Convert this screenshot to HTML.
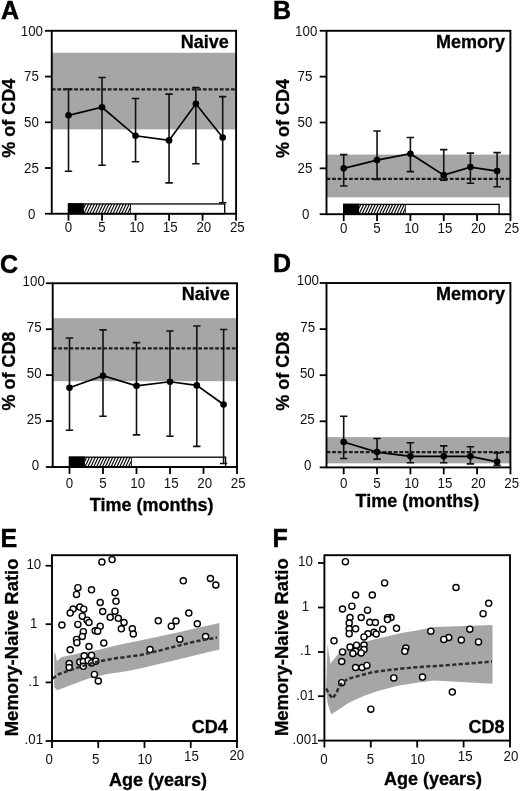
<!DOCTYPE html>
<html><head><meta charset="utf-8"><title>Figure</title>
<style>
html,body{margin:0;padding:0;background:#fff;overflow:hidden;}
svg{display:block;font-family:"Liberation Sans", sans-serif;will-change:transform;filter:grayscale(1);}
</style></head><body>
<svg width="520" height="791" viewBox="0 0 520 791">
<rect width="520" height="791" fill="#fff"/>
<g>
<rect x="51.75" y="52.75" width="184.35" height="76.66" fill="#a6a6a6"/>
<line x1="51.75" y1="89.34" x2="236.10" y2="89.34" stroke="#1c1c1c" stroke-width="2.2" stroke-dasharray="3.8 1.8"/>
<rect x="68.50" y="203.95" width="156.20" height="9.8" fill="#fff" stroke="#000" stroke-width="1.3"/>
<clipPath id="clipA"><rect x="83.92" y="203.95" width="46.59" height="9.8"/></clipPath>
<path d="M77.92 214.25L83.02 203.45M80.82 214.25L85.92 203.45M83.72 214.25L88.82 203.45M86.62 214.25L91.72 203.45M89.52 214.25L94.62 203.45M92.42 214.25L97.52 203.45M95.32 214.25L100.42 203.45M98.22 214.25L103.32 203.45M101.12 214.25L106.22 203.45M104.02 214.25L109.12 203.45M106.92 214.25L112.02 203.45M109.82 214.25L114.92 203.45M112.72 214.25L117.82 203.45M115.62 214.25L120.72 203.45M118.52 214.25L123.62 203.45M121.42 214.25L126.52 203.45M124.32 214.25L129.42 203.45M127.22 214.25L132.32 203.45M130.12 214.25L135.22 203.45" stroke="#000" stroke-width="1.15" fill="none" clip-path="url(#clipA)"/>
<line x1="130.51" y1="203.95" x2="130.51" y2="213.75" stroke="#000" stroke-width="0.8"/>
<rect x="67.85" y="203.30" width="16.07" height="10.450000000000001" fill="#000"/>
<path d="M68.50 88.98V171.31M64.80 88.98h7.4M64.80 171.31h7.4" stroke="#111" stroke-width="1.6" fill="none"/>
<path d="M102.02 77.45V165.27M98.32 77.45h7.4M98.32 165.27h7.4" stroke="#111" stroke-width="1.6" fill="none"/>
<path d="M135.54 98.49V161.79M131.84 98.49h7.4M131.84 161.79h7.4" stroke="#111" stroke-width="1.6" fill="none"/>
<path d="M169.06 94.10V182.83M165.36 94.10h7.4M165.36 182.83h7.4" stroke="#111" stroke-width="1.6" fill="none"/>
<path d="M195.88 87.51V163.80M192.18 87.51h7.4M192.18 163.80h7.4" stroke="#111" stroke-width="1.6" fill="none"/>
<path d="M222.69 96.66V202.77M218.99 96.66h7.4M218.99 202.77h7.4" stroke="#111" stroke-width="1.6" fill="none"/>
<path d="M68.50 115.32L102.02 107.27L135.54 135.81L169.06 140.39L195.88 103.80L222.69 137.46" stroke="#000" stroke-width="1.7" fill="none"/>
<circle cx="68.50" cy="115.32" r="3.3" fill="#000"/>
<circle cx="102.02" cy="107.27" r="3.3" fill="#000"/>
<circle cx="135.54" cy="135.81" r="3.3" fill="#000"/>
<circle cx="169.06" cy="140.39" r="3.3" fill="#000"/>
<circle cx="195.88" cy="103.80" r="3.3" fill="#000"/>
<circle cx="222.69" cy="137.46" r="3.3" fill="#000"/>
<rect x="51.75" y="30.80" width="184.35" height="182.95" fill="none" stroke="#000" stroke-width="1.9"/>
<line x1="44.95" y1="213.75" x2="51.75" y2="213.75" stroke="#000" stroke-width="1.8"/>
<text transform="translate(31.80 218.55) scale(0.925 1)" font-size="14.4" text-anchor="middle" fill="#111">0</text>
<line x1="44.95" y1="168.01" x2="51.75" y2="168.01" stroke="#000" stroke-width="1.8"/>
<text transform="translate(31.40 172.81) scale(0.925 1)" font-size="14.4" text-anchor="middle" fill="#111">25</text>
<line x1="44.95" y1="122.28" x2="51.75" y2="122.28" stroke="#000" stroke-width="1.8"/>
<text transform="translate(31.40 127.08) scale(0.925 1)" font-size="14.4" text-anchor="middle" fill="#111">50</text>
<line x1="44.95" y1="76.54" x2="51.75" y2="76.54" stroke="#000" stroke-width="1.8"/>
<text transform="translate(31.40 81.34) scale(0.925 1)" font-size="14.4" text-anchor="middle" fill="#111">75</text>
<line x1="44.95" y1="30.80" x2="51.75" y2="30.80" stroke="#000" stroke-width="1.8"/>
<text transform="translate(31.90 35.60) scale(0.925 1)" font-size="14.4" text-anchor="middle" fill="#111">100</text>
<line x1="68.50" y1="213.75" x2="68.50" y2="220.65" stroke="#000" stroke-width="1.8"/>
<text transform="translate(68.50 232.45) scale(0.925 1)" font-size="14.4" text-anchor="middle" fill="#111">0</text>
<line x1="102.02" y1="213.75" x2="102.02" y2="220.65" stroke="#000" stroke-width="1.8"/>
<text transform="translate(102.02 232.45) scale(0.925 1)" font-size="14.4" text-anchor="middle" fill="#111">5</text>
<line x1="135.54" y1="213.75" x2="135.54" y2="220.65" stroke="#000" stroke-width="1.8"/>
<text transform="translate(136.74 232.45) scale(0.925 1)" font-size="14.4" text-anchor="middle" fill="#111">10</text>
<line x1="169.06" y1="213.75" x2="169.06" y2="220.65" stroke="#000" stroke-width="1.8"/>
<text transform="translate(170.26 232.45) scale(0.925 1)" font-size="14.4" text-anchor="middle" fill="#111">15</text>
<line x1="202.58" y1="213.75" x2="202.58" y2="220.65" stroke="#000" stroke-width="1.8"/>
<text transform="translate(203.78 232.45) scale(0.925 1)" font-size="14.4" text-anchor="middle" fill="#111">20</text>
<line x1="236.10" y1="213.75" x2="236.10" y2="220.65" stroke="#000" stroke-width="1.8"/>
<text transform="translate(237.30 232.45) scale(0.925 1)" font-size="14.4" text-anchor="middle" fill="#111">25</text>
<text x="228.90" y="47.70" font-size="18" font-weight="bold" stroke="#000" stroke-width="0.3" text-anchor="end">Naive</text>
<text transform="translate(15.00 118.28) rotate(-90)" font-size="18" font-weight="bold" stroke="#000" stroke-width="0.3" text-anchor="middle">% of CD4</text>
<text x="1.00" y="19.10" font-size="25" font-weight="bold" stroke="#000" stroke-width="0.45">A</text>
<rect x="326.50" y="154.59" width="183.90" height="42.73" fill="#a6a6a6"/>
<line x1="326.50" y1="178.80" x2="510.40" y2="178.80" stroke="#1c1c1c" stroke-width="2.2" stroke-dasharray="3.8 1.8"/>
<rect x="343.70" y="204.40" width="155.41" height="9.8" fill="#fff" stroke="#000" stroke-width="1.3"/>
<clipPath id="clipB"><rect x="359.04" y="204.40" width="46.36" height="9.8"/></clipPath>
<path d="M353.04 214.70L358.14 203.90M355.94 214.70L361.04 203.90M358.84 214.70L363.94 203.90M361.74 214.70L366.84 203.90M364.64 214.70L369.74 203.90M367.54 214.70L372.64 203.90M370.44 214.70L375.54 203.90M373.34 214.70L378.44 203.90M376.24 214.70L381.34 203.90M379.14 214.70L384.24 203.90M382.04 214.70L387.14 203.90M384.94 214.70L390.04 203.90M387.84 214.70L392.94 203.90M390.74 214.70L395.84 203.90M393.64 214.70L398.74 203.90M396.54 214.70L401.64 203.90M399.44 214.70L404.54 203.90M402.34 214.70L407.44 203.90M405.24 214.70L410.34 203.90" stroke="#000" stroke-width="1.15" fill="none" clip-path="url(#clipB)"/>
<line x1="405.40" y1="204.40" x2="405.40" y2="214.20" stroke="#000" stroke-width="0.8"/>
<rect x="343.05" y="203.75" width="15.99" height="10.450000000000001" fill="#000"/>
<path d="M343.70 154.59V185.96M340.00 154.59h7.4M340.00 185.96h7.4" stroke="#111" stroke-width="1.6" fill="none"/>
<path d="M377.05 130.94V179.35M373.35 130.94h7.4M373.35 179.35h7.4" stroke="#111" stroke-width="1.6" fill="none"/>
<path d="M410.40 137.54V171.65M406.70 137.54h7.4M406.70 171.65h7.4" stroke="#111" stroke-width="1.6" fill="none"/>
<path d="M443.75 149.64V180.09M440.05 149.64h7.4M440.05 180.09h7.4" stroke="#111" stroke-width="1.6" fill="none"/>
<path d="M470.43 153.13V183.21M466.73 153.13h7.4M466.73 183.21h7.4" stroke="#111" stroke-width="1.6" fill="none"/>
<path d="M497.11 152.58V186.69M493.41 152.58h7.4M493.41 186.69h7.4" stroke="#111" stroke-width="1.6" fill="none"/>
<path d="M343.70 168.35L377.05 160.10L410.40 153.68L443.75 175.14L470.43 167.07L497.11 171.10" stroke="#000" stroke-width="1.7" fill="none"/>
<circle cx="343.70" cy="168.35" r="3.3" fill="#000"/>
<circle cx="377.05" cy="160.10" r="3.3" fill="#000"/>
<circle cx="410.40" cy="153.68" r="3.3" fill="#000"/>
<circle cx="443.75" cy="175.14" r="3.3" fill="#000"/>
<circle cx="470.43" cy="167.07" r="3.3" fill="#000"/>
<circle cx="497.11" cy="171.10" r="3.3" fill="#000"/>
<rect x="326.50" y="30.80" width="183.90" height="183.40" fill="none" stroke="#000" stroke-width="1.9"/>
<line x1="319.70" y1="214.20" x2="326.50" y2="214.20" stroke="#000" stroke-width="1.8"/>
<text transform="translate(305.60 219.00) scale(0.925 1)" font-size="14.4" text-anchor="middle" fill="#111">0</text>
<line x1="319.70" y1="168.35" x2="326.50" y2="168.35" stroke="#000" stroke-width="1.8"/>
<text transform="translate(304.90 173.15) scale(0.925 1)" font-size="14.4" text-anchor="middle" fill="#111">25</text>
<line x1="319.70" y1="122.50" x2="326.50" y2="122.50" stroke="#000" stroke-width="1.8"/>
<text transform="translate(304.90 127.30) scale(0.925 1)" font-size="14.4" text-anchor="middle" fill="#111">50</text>
<line x1="319.70" y1="76.65" x2="326.50" y2="76.65" stroke="#000" stroke-width="1.8"/>
<text transform="translate(304.90 81.45) scale(0.925 1)" font-size="14.4" text-anchor="middle" fill="#111">75</text>
<line x1="319.70" y1="30.80" x2="326.50" y2="30.80" stroke="#000" stroke-width="1.8"/>
<text transform="translate(306.20 35.60) scale(0.925 1)" font-size="14.4" text-anchor="middle" fill="#111">100</text>
<line x1="343.70" y1="214.20" x2="343.70" y2="221.10" stroke="#000" stroke-width="1.8"/>
<text transform="translate(343.70 232.90) scale(0.925 1)" font-size="14.4" text-anchor="middle" fill="#111">0</text>
<line x1="377.05" y1="214.20" x2="377.05" y2="221.10" stroke="#000" stroke-width="1.8"/>
<text transform="translate(377.05 232.90) scale(0.925 1)" font-size="14.4" text-anchor="middle" fill="#111">5</text>
<line x1="410.40" y1="214.20" x2="410.40" y2="221.10" stroke="#000" stroke-width="1.8"/>
<text transform="translate(411.60 232.90) scale(0.925 1)" font-size="14.4" text-anchor="middle" fill="#111">10</text>
<line x1="443.75" y1="214.20" x2="443.75" y2="221.10" stroke="#000" stroke-width="1.8"/>
<text transform="translate(444.95 232.90) scale(0.925 1)" font-size="14.4" text-anchor="middle" fill="#111">15</text>
<line x1="477.10" y1="214.20" x2="477.10" y2="221.10" stroke="#000" stroke-width="1.8"/>
<text transform="translate(478.30 232.90) scale(0.925 1)" font-size="14.4" text-anchor="middle" fill="#111">20</text>
<line x1="510.45" y1="214.20" x2="510.45" y2="221.10" stroke="#000" stroke-width="1.8"/>
<text transform="translate(511.65 232.90) scale(0.925 1)" font-size="14.4" text-anchor="middle" fill="#111">25</text>
<text x="505.00" y="47.70" font-size="18" font-weight="bold" stroke="#000" stroke-width="0.3" text-anchor="end">Memory</text>
<text transform="translate(289.00 118.50) rotate(-90)" font-size="18" font-weight="bold" stroke="#000" stroke-width="0.3" text-anchor="middle">% of CD4</text>
<text x="273.00" y="19.10" font-size="25" font-weight="bold" stroke="#000" stroke-width="0.45">B</text>
<rect x="52.70" y="318.16" width="184.30" height="63.03" fill="#a6a6a6"/>
<line x1="52.70" y1="348.30" x2="237.00" y2="348.30" stroke="#1c1c1c" stroke-width="2.2" stroke-dasharray="3.8 1.8"/>
<rect x="69.50" y="457.20" width="156.11" height="9.8" fill="#fff" stroke="#000" stroke-width="1.3"/>
<clipPath id="clipC"><rect x="84.91" y="457.20" width="46.56" height="9.8"/></clipPath>
<path d="M78.91 467.50L84.01 456.70M81.81 467.50L86.91 456.70M84.71 467.50L89.81 456.70M87.61 467.50L92.71 456.70M90.51 467.50L95.61 456.70M93.41 467.50L98.51 456.70M96.31 467.50L101.41 456.70M99.21 467.50L104.31 456.70M102.11 467.50L107.21 456.70M105.01 467.50L110.11 456.70M107.91 467.50L113.01 456.70M110.81 467.50L115.91 456.70M113.71 467.50L118.81 456.70M116.61 467.50L121.71 456.70M119.51 467.50L124.61 456.70M122.41 467.50L127.51 456.70M125.31 467.50L130.41 456.70M128.21 467.50L133.31 456.70M131.11 467.50L136.21 456.70" stroke="#000" stroke-width="1.15" fill="none" clip-path="url(#clipC)"/>
<line x1="131.47" y1="457.20" x2="131.47" y2="467.00" stroke="#000" stroke-width="0.8"/>
<rect x="68.85" y="456.55" width="16.06" height="10.450000000000001" fill="#000"/>
<path d="M69.50 338.01V430.25M65.80 338.01h7.4M65.80 430.25h7.4" stroke="#111" stroke-width="1.6" fill="none"/>
<path d="M103.00 329.92V416.28M99.30 329.92h7.4M99.30 416.28h7.4" stroke="#111" stroke-width="1.6" fill="none"/>
<path d="M136.50 342.60V434.84M132.80 342.60h7.4M132.80 434.84h7.4" stroke="#111" stroke-width="1.6" fill="none"/>
<path d="M170.00 331.02V436.31M166.30 331.02h7.4M166.30 436.31h7.4" stroke="#111" stroke-width="1.6" fill="none"/>
<path d="M196.80 326.06V446.42M193.10 326.06h7.4M193.10 446.42h7.4" stroke="#111" stroke-width="1.6" fill="none"/>
<path d="M223.60 329.56V463.51M219.90 329.56h7.4M219.90 463.51h7.4" stroke="#111" stroke-width="1.6" fill="none"/>
<path d="M69.50 387.80L103.00 375.68L136.50 385.78L170.00 381.74L196.80 385.42L223.60 404.52" stroke="#000" stroke-width="1.7" fill="none"/>
<circle cx="69.50" cy="387.80" r="3.3" fill="#000"/>
<circle cx="103.00" cy="375.68" r="3.3" fill="#000"/>
<circle cx="136.50" cy="385.78" r="3.3" fill="#000"/>
<circle cx="170.00" cy="381.74" r="3.3" fill="#000"/>
<circle cx="196.80" cy="385.42" r="3.3" fill="#000"/>
<circle cx="223.60" cy="404.52" r="3.3" fill="#000"/>
<rect x="52.70" y="283.25" width="184.30" height="183.75" fill="none" stroke="#000" stroke-width="1.9"/>
<line x1="45.90" y1="467.00" x2="52.70" y2="467.00" stroke="#000" stroke-width="1.8"/>
<text transform="translate(35.40 469.50) scale(0.925 1)" font-size="14.4" text-anchor="middle" fill="#111">0</text>
<line x1="45.90" y1="421.06" x2="52.70" y2="421.06" stroke="#000" stroke-width="1.8"/>
<text transform="translate(34.20 423.56) scale(0.925 1)" font-size="14.4" text-anchor="middle" fill="#111">25</text>
<line x1="45.90" y1="375.12" x2="52.70" y2="375.12" stroke="#000" stroke-width="1.8"/>
<text transform="translate(34.20 377.62) scale(0.925 1)" font-size="14.4" text-anchor="middle" fill="#111">50</text>
<line x1="45.90" y1="329.19" x2="52.70" y2="329.19" stroke="#000" stroke-width="1.8"/>
<text transform="translate(34.20 331.69) scale(0.925 1)" font-size="14.4" text-anchor="middle" fill="#111">75</text>
<line x1="45.90" y1="283.25" x2="52.70" y2="283.25" stroke="#000" stroke-width="1.8"/>
<text transform="translate(33.70 285.75) scale(0.925 1)" font-size="14.4" text-anchor="middle" fill="#111">100</text>
<line x1="69.50" y1="467.00" x2="69.50" y2="473.90" stroke="#000" stroke-width="1.8"/>
<text transform="translate(69.50 487.80) scale(0.925 1)" font-size="14.4" text-anchor="middle" fill="#111">0</text>
<line x1="103.00" y1="467.00" x2="103.00" y2="473.90" stroke="#000" stroke-width="1.8"/>
<text transform="translate(103.00 487.80) scale(0.925 1)" font-size="14.4" text-anchor="middle" fill="#111">5</text>
<line x1="136.50" y1="467.00" x2="136.50" y2="473.90" stroke="#000" stroke-width="1.8"/>
<text transform="translate(137.70 487.80) scale(0.925 1)" font-size="14.4" text-anchor="middle" fill="#111">10</text>
<line x1="170.00" y1="467.00" x2="170.00" y2="473.90" stroke="#000" stroke-width="1.8"/>
<text transform="translate(171.20 487.80) scale(0.925 1)" font-size="14.4" text-anchor="middle" fill="#111">15</text>
<line x1="203.50" y1="467.00" x2="203.50" y2="473.90" stroke="#000" stroke-width="1.8"/>
<text transform="translate(204.70 487.80) scale(0.925 1)" font-size="14.4" text-anchor="middle" fill="#111">20</text>
<line x1="237.00" y1="467.00" x2="237.00" y2="473.90" stroke="#000" stroke-width="1.8"/>
<text transform="translate(238.20 487.80) scale(0.925 1)" font-size="14.4" text-anchor="middle" fill="#111">25</text>
<text x="229.80" y="300.15" font-size="18" font-weight="bold" stroke="#000" stroke-width="0.3" text-anchor="end">Naive</text>
<text transform="translate(15.00 371.12) rotate(-90)" font-size="18" font-weight="bold" stroke="#000" stroke-width="0.3" text-anchor="middle">% of CD8</text>
<text x="-0.10" y="272.60" font-size="25" font-weight="bold" stroke="#000" stroke-width="0.45">C</text>
<text x="151.70" y="510.60" font-size="18" font-weight="bold" stroke="#000" stroke-width="0.3" text-anchor="middle">Time (months)</text>
<rect x="326.50" y="437.16" width="183.90" height="26.18" fill="#a6a6a6"/>
<line x1="326.50" y1="452.09" x2="510.40" y2="452.09" stroke="#1c1c1c" stroke-width="2.2" stroke-dasharray="3.8 1.8"/>
<path d="M343.70 416.32V458.55M340.00 416.32h7.4M340.00 458.55h7.4" stroke="#111" stroke-width="1.6" fill="none"/>
<path d="M377.05 438.45V459.10M373.35 438.45h7.4M373.35 459.10h7.4" stroke="#111" stroke-width="1.6" fill="none"/>
<path d="M410.40 442.69V462.79M406.70 442.69h7.4M406.70 462.79h7.4" stroke="#111" stroke-width="1.6" fill="none"/>
<path d="M443.75 445.83V462.79M440.05 445.83h7.4M440.05 462.79h7.4" stroke="#111" stroke-width="1.6" fill="none"/>
<path d="M470.43 446.75V463.90M466.73 446.75h7.4M466.73 463.90h7.4" stroke="#111" stroke-width="1.6" fill="none"/>
<path d="M497.11 452.83V465.37M493.41 452.83h7.4M493.41 465.37h7.4" stroke="#111" stroke-width="1.6" fill="none"/>
<path d="M343.70 441.95L377.05 452.09L410.40 456.34L443.75 456.34L470.43 456.34L497.11 461.87" stroke="#000" stroke-width="1.7" fill="none"/>
<circle cx="343.70" cy="441.95" r="3.3" fill="#000"/>
<circle cx="377.05" cy="452.09" r="3.3" fill="#000"/>
<circle cx="410.40" cy="456.34" r="3.3" fill="#000"/>
<circle cx="443.75" cy="456.34" r="3.3" fill="#000"/>
<circle cx="470.43" cy="456.34" r="3.3" fill="#000"/>
<circle cx="497.11" cy="461.87" r="3.3" fill="#000"/>
<rect x="326.50" y="283.00" width="183.90" height="184.40" fill="none" stroke="#000" stroke-width="1.9"/>
<line x1="319.70" y1="467.40" x2="326.50" y2="467.40" stroke="#000" stroke-width="1.8"/>
<text transform="translate(307.80 469.80) scale(0.925 1)" font-size="14.4" text-anchor="middle" fill="#111">0</text>
<line x1="319.70" y1="421.30" x2="326.50" y2="421.30" stroke="#000" stroke-width="1.8"/>
<text transform="translate(307.30 423.70) scale(0.925 1)" font-size="14.4" text-anchor="middle" fill="#111">25</text>
<line x1="319.70" y1="375.20" x2="326.50" y2="375.20" stroke="#000" stroke-width="1.8"/>
<text transform="translate(307.30 377.60) scale(0.925 1)" font-size="14.4" text-anchor="middle" fill="#111">50</text>
<line x1="319.70" y1="329.10" x2="326.50" y2="329.10" stroke="#000" stroke-width="1.8"/>
<text transform="translate(307.70 331.50) scale(0.925 1)" font-size="14.4" text-anchor="middle" fill="#111">75</text>
<line x1="319.70" y1="283.00" x2="326.50" y2="283.00" stroke="#000" stroke-width="1.8"/>
<text transform="translate(307.90 285.40) scale(0.925 1)" font-size="14.4" text-anchor="middle" fill="#111">100</text>
<line x1="343.70" y1="467.40" x2="343.70" y2="474.30" stroke="#000" stroke-width="1.8"/>
<text transform="translate(343.70 488.40) scale(0.925 1)" font-size="14.4" text-anchor="middle" fill="#111">0</text>
<line x1="377.05" y1="467.40" x2="377.05" y2="474.30" stroke="#000" stroke-width="1.8"/>
<text transform="translate(377.05 488.40) scale(0.925 1)" font-size="14.4" text-anchor="middle" fill="#111">5</text>
<line x1="410.40" y1="467.40" x2="410.40" y2="474.30" stroke="#000" stroke-width="1.8"/>
<text transform="translate(411.60 488.40) scale(0.925 1)" font-size="14.4" text-anchor="middle" fill="#111">10</text>
<line x1="443.75" y1="467.40" x2="443.75" y2="474.30" stroke="#000" stroke-width="1.8"/>
<text transform="translate(444.95 488.40) scale(0.925 1)" font-size="14.4" text-anchor="middle" fill="#111">15</text>
<line x1="477.10" y1="467.40" x2="477.10" y2="474.30" stroke="#000" stroke-width="1.8"/>
<text transform="translate(478.30 488.40) scale(0.925 1)" font-size="14.4" text-anchor="middle" fill="#111">20</text>
<line x1="510.45" y1="467.40" x2="510.45" y2="474.30" stroke="#000" stroke-width="1.8"/>
<text transform="translate(511.65 488.40) scale(0.925 1)" font-size="14.4" text-anchor="middle" fill="#111">25</text>
<text x="505.00" y="299.90" font-size="18" font-weight="bold" stroke="#000" stroke-width="0.3" text-anchor="end">Memory</text>
<text transform="translate(289.00 371.20) rotate(-90)" font-size="18" font-weight="bold" stroke="#000" stroke-width="0.3" text-anchor="middle">% of CD8</text>
<text x="273.00" y="271.60" font-size="25" font-weight="bold" stroke="#000" stroke-width="0.45">D</text>
<text x="417.40" y="507.00" font-size="18" font-weight="bold" stroke="#000" stroke-width="0.3" text-anchor="middle">Time (months)</text>
<polygon points="54.2,675.0 54.2,652.7 55.4,653.5 56.9,661.3 61.2,657.2 78.0,653.5 97.7,650.0 117.0,645.2 140.0,640.4 178.5,632.3 219.4,623.1 219.4,649.6 180.0,659.0 140.0,668.5 126.5,671.2 107.3,674.0 88.0,678.8 69.0,685.8 57.3,690.2 54.2,687.3 54.2,675.0" fill="#a6a6a6"/>
<circle cx="101.9" cy="562.1" r="3.05" fill="#fff" stroke="#000" stroke-width="1.4"/>
<circle cx="112.1" cy="559.6" r="3.05" fill="#fff" stroke="#000" stroke-width="1.4"/>
<circle cx="77.9" cy="587.7" r="3.05" fill="#fff" stroke="#000" stroke-width="1.4"/>
<circle cx="76.5" cy="594.4" r="3.05" fill="#fff" stroke="#000" stroke-width="1.4"/>
<circle cx="91.5" cy="589.8" r="3.05" fill="#fff" stroke="#000" stroke-width="1.4"/>
<circle cx="115.0" cy="592.7" r="3.05" fill="#fff" stroke="#000" stroke-width="1.4"/>
<circle cx="116.0" cy="601.3" r="3.05" fill="#fff" stroke="#000" stroke-width="1.4"/>
<circle cx="100.2" cy="602.5" r="3.05" fill="#fff" stroke="#000" stroke-width="1.4"/>
<circle cx="79.8" cy="607.1" r="3.05" fill="#fff" stroke="#000" stroke-width="1.4"/>
<circle cx="83.7" cy="609.2" r="3.05" fill="#fff" stroke="#000" stroke-width="1.4"/>
<circle cx="73.1" cy="609.0" r="3.05" fill="#fff" stroke="#000" stroke-width="1.4"/>
<circle cx="70.2" cy="613.1" r="3.05" fill="#fff" stroke="#000" stroke-width="1.4"/>
<circle cx="102.7" cy="611.5" r="3.05" fill="#fff" stroke="#000" stroke-width="1.4"/>
<circle cx="115.0" cy="611.2" r="3.05" fill="#fff" stroke="#000" stroke-width="1.4"/>
<circle cx="82.3" cy="616.2" r="3.05" fill="#fff" stroke="#000" stroke-width="1.4"/>
<circle cx="110.2" cy="617.3" r="3.05" fill="#fff" stroke="#000" stroke-width="1.4"/>
<circle cx="118.3" cy="618.3" r="3.05" fill="#fff" stroke="#000" stroke-width="1.4"/>
<circle cx="87.1" cy="620.2" r="3.05" fill="#fff" stroke="#000" stroke-width="1.4"/>
<circle cx="89.0" cy="622.5" r="3.05" fill="#fff" stroke="#000" stroke-width="1.4"/>
<circle cx="124.0" cy="622.5" r="3.05" fill="#fff" stroke="#000" stroke-width="1.4"/>
<circle cx="61.9" cy="625.0" r="3.05" fill="#fff" stroke="#000" stroke-width="1.4"/>
<circle cx="77.9" cy="624.4" r="3.05" fill="#fff" stroke="#000" stroke-width="1.4"/>
<circle cx="100.2" cy="626.3" r="3.05" fill="#fff" stroke="#000" stroke-width="1.4"/>
<circle cx="121.3" cy="628.8" r="3.05" fill="#fff" stroke="#000" stroke-width="1.4"/>
<circle cx="132.3" cy="628.8" r="3.05" fill="#fff" stroke="#000" stroke-width="1.4"/>
<circle cx="133.3" cy="634.0" r="3.05" fill="#fff" stroke="#000" stroke-width="1.4"/>
<circle cx="95.2" cy="630.8" r="3.05" fill="#fff" stroke="#000" stroke-width="1.4"/>
<circle cx="97.7" cy="631.2" r="3.05" fill="#fff" stroke="#000" stroke-width="1.4"/>
<circle cx="83.3" cy="631.7" r="3.05" fill="#fff" stroke="#000" stroke-width="1.4"/>
<circle cx="82.3" cy="636.5" r="3.05" fill="#fff" stroke="#000" stroke-width="1.4"/>
<circle cx="76.5" cy="639.4" r="3.05" fill="#fff" stroke="#000" stroke-width="1.4"/>
<circle cx="76.9" cy="642.7" r="3.05" fill="#fff" stroke="#000" stroke-width="1.4"/>
<circle cx="103.8" cy="643.1" r="3.05" fill="#fff" stroke="#000" stroke-width="1.4"/>
<circle cx="89.0" cy="646.5" r="3.05" fill="#fff" stroke="#000" stroke-width="1.4"/>
<circle cx="70.2" cy="649.8" r="3.05" fill="#fff" stroke="#000" stroke-width="1.4"/>
<circle cx="84.2" cy="655.8" r="3.05" fill="#fff" stroke="#000" stroke-width="1.4"/>
<circle cx="91.5" cy="655.4" r="3.05" fill="#fff" stroke="#000" stroke-width="1.4"/>
<circle cx="69.2" cy="663.5" r="3.05" fill="#fff" stroke="#000" stroke-width="1.4"/>
<circle cx="69.2" cy="667.5" r="3.05" fill="#fff" stroke="#000" stroke-width="1.4"/>
<circle cx="79.8" cy="662.1" r="3.05" fill="#fff" stroke="#000" stroke-width="1.4"/>
<circle cx="83.3" cy="661.5" r="3.05" fill="#fff" stroke="#000" stroke-width="1.4"/>
<circle cx="83.3" cy="666.3" r="3.05" fill="#fff" stroke="#000" stroke-width="1.4"/>
<circle cx="88.1" cy="660.6" r="3.05" fill="#fff" stroke="#000" stroke-width="1.4"/>
<circle cx="91.5" cy="662.9" r="3.05" fill="#fff" stroke="#000" stroke-width="1.4"/>
<circle cx="95.8" cy="661.2" r="3.05" fill="#fff" stroke="#000" stroke-width="1.4"/>
<circle cx="94.4" cy="674.4" r="3.05" fill="#fff" stroke="#000" stroke-width="1.4"/>
<circle cx="98.3" cy="681.0" r="3.05" fill="#fff" stroke="#000" stroke-width="1.4"/>
<circle cx="183.3" cy="580.8" r="3.05" fill="#fff" stroke="#000" stroke-width="1.4"/>
<circle cx="210.4" cy="578.5" r="3.05" fill="#fff" stroke="#000" stroke-width="1.4"/>
<circle cx="215.8" cy="585.0" r="3.05" fill="#fff" stroke="#000" stroke-width="1.4"/>
<circle cx="188.8" cy="613.1" r="3.05" fill="#fff" stroke="#000" stroke-width="1.4"/>
<circle cx="158.3" cy="620.8" r="3.05" fill="#fff" stroke="#000" stroke-width="1.4"/>
<circle cx="176.0" cy="621.0" r="3.05" fill="#fff" stroke="#000" stroke-width="1.4"/>
<circle cx="171.3" cy="626.2" r="3.05" fill="#fff" stroke="#000" stroke-width="1.4"/>
<circle cx="197.3" cy="623.8" r="3.05" fill="#fff" stroke="#000" stroke-width="1.4"/>
<circle cx="179.8" cy="639.2" r="3.05" fill="#fff" stroke="#000" stroke-width="1.4"/>
<circle cx="205.6" cy="636.5" r="3.05" fill="#fff" stroke="#000" stroke-width="1.4"/>
<circle cx="150.0" cy="649.6" r="3.05" fill="#fff" stroke="#000" stroke-width="1.4"/>
<path d="M52.5 678.5L59.2 674.0L78.5 667.3L97.7 661.5L117.0 658.1L140.0 655.2L159.2 650.6L178.5 645.6L197.7 641.0L217.0 637.5" stroke="#2e2e2e" stroke-width="2.5" fill="none" stroke-dasharray="4.2 2.3" stroke-linejoin="round"/>
<rect x="52.00" y="555.20" width="185.00" height="185.80" fill="none" stroke="#000" stroke-width="1.9"/>
<line x1="45.60" y1="565.75" x2="52.00" y2="565.75" stroke="#000" stroke-width="1.8"/>
<text transform="translate(33.80 569.15) scale(0.925 1)" font-size="14.4" text-anchor="middle" fill="#111">10</text>
<line x1="45.60" y1="624.20" x2="52.00" y2="624.20" stroke="#000" stroke-width="1.8"/>
<text transform="translate(33.80 627.60) scale(0.925 1)" font-size="14.4" text-anchor="middle" fill="#111">1</text>
<line x1="45.60" y1="682.40" x2="52.00" y2="682.40" stroke="#000" stroke-width="1.8"/>
<text transform="translate(33.80 685.80) scale(0.925 1)" font-size="14.4" text-anchor="middle" fill="#111">.1</text>
<line x1="45.60" y1="741.00" x2="52.00" y2="741.00" stroke="#000" stroke-width="1.8"/>
<text transform="translate(33.80 744.40) scale(0.925 1)" font-size="14.4" text-anchor="middle" fill="#111">.01</text>
<line x1="52.00" y1="741.00" x2="52.00" y2="747.90" stroke="#000" stroke-width="1.8"/>
<text transform="translate(49.20 764.10) scale(0.925 1)" font-size="14.4" text-anchor="middle" fill="#111">0</text>
<line x1="98.25" y1="741.00" x2="98.25" y2="747.90" stroke="#000" stroke-width="1.8"/>
<text transform="translate(95.80 764.10) scale(0.925 1)" font-size="14.4" text-anchor="middle" fill="#111">5</text>
<line x1="144.50" y1="741.00" x2="144.50" y2="747.90" stroke="#000" stroke-width="1.8"/>
<text transform="translate(144.80 764.30) scale(0.925 1)" font-size="14.4" text-anchor="middle" fill="#111">10</text>
<line x1="190.75" y1="741.00" x2="190.75" y2="747.90" stroke="#000" stroke-width="1.8"/>
<text transform="translate(191.50 760.90) scale(0.925 1)" font-size="14.4" text-anchor="middle" fill="#111">15</text>
<line x1="237.00" y1="741.00" x2="237.00" y2="747.90" stroke="#000" stroke-width="1.8"/>
<text transform="translate(236.80 760.30) scale(0.925 1)" font-size="14.4" text-anchor="middle" fill="#111">20</text>
<text x="227.80" y="733.20" font-size="18" font-weight="bold" stroke="#000" stroke-width="0.3" text-anchor="end">CD4</text>
<text transform="translate(17.60 647.40) rotate(-90)" font-size="18.5" font-weight="bold" stroke="#000" stroke-width="0.3" text-anchor="middle">Memory-Naive Ratio</text>
<text x="0.50" y="547.10" font-size="25" font-weight="bold" stroke="#000" stroke-width="0.45">E</text>
<text x="158.00" y="785.60" font-size="18" font-weight="bold" stroke="#000" stroke-width="0.3" text-anchor="middle">Age (years)</text>
<polygon points="326.0,690.0 327.5,644.2 330.4,663.5 340.0,652.0 363.0,642.3 382.3,637.5 401.5,633.0 415.0,630.8 434.0,627.0 492.5,625.0 492.5,683.7 434.0,680.4 415.0,683.0 398.0,685.8 379.5,690.4 364.2,695.8 348.8,702.7 335.0,712.0 331.2,714.2 327.5,703.0 326.0,690.0" fill="#a6a6a6"/>
<circle cx="345.4" cy="561.7" r="3.05" fill="#fff" stroke="#000" stroke-width="1.4"/>
<circle cx="384.6" cy="582.9" r="3.05" fill="#fff" stroke="#000" stroke-width="1.4"/>
<circle cx="355.6" cy="595.0" r="3.05" fill="#fff" stroke="#000" stroke-width="1.4"/>
<circle cx="372.3" cy="595.0" r="3.05" fill="#fff" stroke="#000" stroke-width="1.4"/>
<circle cx="351.9" cy="606.2" r="3.05" fill="#fff" stroke="#000" stroke-width="1.4"/>
<circle cx="342.5" cy="609.0" r="3.05" fill="#fff" stroke="#000" stroke-width="1.4"/>
<circle cx="367.5" cy="610.2" r="3.05" fill="#fff" stroke="#000" stroke-width="1.4"/>
<circle cx="350.0" cy="617.5" r="3.05" fill="#fff" stroke="#000" stroke-width="1.4"/>
<circle cx="361.2" cy="617.5" r="3.05" fill="#fff" stroke="#000" stroke-width="1.4"/>
<circle cx="391.0" cy="617.5" r="3.05" fill="#fff" stroke="#000" stroke-width="1.4"/>
<circle cx="387.5" cy="617.7" r="3.05" fill="#fff" stroke="#000" stroke-width="1.4"/>
<circle cx="387.5" cy="619.6" r="3.05" fill="#fff" stroke="#000" stroke-width="1.4"/>
<circle cx="349.2" cy="623.1" r="3.05" fill="#fff" stroke="#000" stroke-width="1.4"/>
<circle cx="369.8" cy="622.3" r="3.05" fill="#fff" stroke="#000" stroke-width="1.4"/>
<circle cx="375.4" cy="622.5" r="3.05" fill="#fff" stroke="#000" stroke-width="1.4"/>
<circle cx="349.2" cy="628.8" r="3.05" fill="#fff" stroke="#000" stroke-width="1.4"/>
<circle cx="355.6" cy="628.8" r="3.05" fill="#fff" stroke="#000" stroke-width="1.4"/>
<circle cx="382.7" cy="629.2" r="3.05" fill="#fff" stroke="#000" stroke-width="1.4"/>
<circle cx="396.5" cy="628.3" r="3.05" fill="#fff" stroke="#000" stroke-width="1.4"/>
<circle cx="349.2" cy="633.7" r="3.05" fill="#fff" stroke="#000" stroke-width="1.4"/>
<circle cx="367.9" cy="633.8" r="3.05" fill="#fff" stroke="#000" stroke-width="1.4"/>
<circle cx="374.0" cy="632.3" r="3.05" fill="#fff" stroke="#000" stroke-width="1.4"/>
<circle cx="376.2" cy="634.0" r="3.05" fill="#fff" stroke="#000" stroke-width="1.4"/>
<circle cx="364.0" cy="636.9" r="3.05" fill="#fff" stroke="#000" stroke-width="1.4"/>
<circle cx="334.0" cy="640.8" r="3.05" fill="#fff" stroke="#000" stroke-width="1.4"/>
<circle cx="356.5" cy="645.2" r="3.05" fill="#fff" stroke="#000" stroke-width="1.4"/>
<circle cx="364.0" cy="645.0" r="3.05" fill="#fff" stroke="#000" stroke-width="1.4"/>
<circle cx="350.0" cy="647.1" r="3.05" fill="#fff" stroke="#000" stroke-width="1.4"/>
<circle cx="364.0" cy="649.6" r="3.05" fill="#fff" stroke="#000" stroke-width="1.4"/>
<circle cx="355.6" cy="651.3" r="3.05" fill="#fff" stroke="#000" stroke-width="1.4"/>
<circle cx="342.5" cy="651.9" r="3.05" fill="#fff" stroke="#000" stroke-width="1.4"/>
<circle cx="352.9" cy="653.5" r="3.05" fill="#fff" stroke="#000" stroke-width="1.4"/>
<circle cx="361.2" cy="652.9" r="3.05" fill="#fff" stroke="#000" stroke-width="1.4"/>
<circle cx="405.8" cy="648.1" r="3.05" fill="#fff" stroke="#000" stroke-width="1.4"/>
<circle cx="404.8" cy="651.3" r="3.05" fill="#fff" stroke="#000" stroke-width="1.4"/>
<circle cx="341.7" cy="661.5" r="3.05" fill="#fff" stroke="#000" stroke-width="1.4"/>
<circle cx="355.6" cy="667.5" r="3.05" fill="#fff" stroke="#000" stroke-width="1.4"/>
<circle cx="362.1" cy="667.5" r="3.05" fill="#fff" stroke="#000" stroke-width="1.4"/>
<circle cx="366.9" cy="665.4" r="3.05" fill="#fff" stroke="#000" stroke-width="1.4"/>
<circle cx="393.8" cy="677.9" r="3.05" fill="#fff" stroke="#000" stroke-width="1.4"/>
<circle cx="341.7" cy="682.7" r="3.05" fill="#fff" stroke="#000" stroke-width="1.4"/>
<circle cx="370.8" cy="709.2" r="3.05" fill="#fff" stroke="#000" stroke-width="1.4"/>
<circle cx="456.0" cy="587.5" r="3.05" fill="#fff" stroke="#000" stroke-width="1.4"/>
<circle cx="488.7" cy="603.3" r="3.05" fill="#fff" stroke="#000" stroke-width="1.4"/>
<circle cx="483.1" cy="613.7" r="3.05" fill="#fff" stroke="#000" stroke-width="1.4"/>
<circle cx="469.8" cy="629.2" r="3.05" fill="#fff" stroke="#000" stroke-width="1.4"/>
<circle cx="430.8" cy="631.2" r="3.05" fill="#fff" stroke="#000" stroke-width="1.4"/>
<circle cx="448.7" cy="637.5" r="3.05" fill="#fff" stroke="#000" stroke-width="1.4"/>
<circle cx="443.8" cy="639.4" r="3.05" fill="#fff" stroke="#000" stroke-width="1.4"/>
<circle cx="461.3" cy="640.0" r="3.05" fill="#fff" stroke="#000" stroke-width="1.4"/>
<circle cx="478.5" cy="641.9" r="3.05" fill="#fff" stroke="#000" stroke-width="1.4"/>
<circle cx="422.5" cy="677.1" r="3.05" fill="#fff" stroke="#000" stroke-width="1.4"/>
<circle cx="452.3" cy="692.1" r="3.05" fill="#fff" stroke="#000" stroke-width="1.4"/>
<path d="M326.2 688.5L329.0 694.0L332.5 698.5L336.2 693.5L340.0 684.8L347.5 679.0L360.0 675.5L372.5 672.2L390.0 669.8L415.0 667.3L453.5 664.8L492.0 661.5" stroke="#2e2e2e" stroke-width="2.5" fill="none" stroke-dasharray="4.2 2.3" stroke-linejoin="round"/>
<rect x="324.40" y="555.20" width="185.60" height="185.40" fill="none" stroke="#000" stroke-width="1.9"/>
<line x1="318.00" y1="563.00" x2="324.40" y2="563.00" stroke="#000" stroke-width="1.8"/>
<text transform="translate(305.50 566.40) scale(0.925 1)" font-size="14.4" text-anchor="middle" fill="#111">10</text>
<line x1="318.00" y1="607.50" x2="324.40" y2="607.50" stroke="#000" stroke-width="1.8"/>
<text transform="translate(305.50 610.90) scale(0.925 1)" font-size="14.4" text-anchor="middle" fill="#111">1</text>
<line x1="318.00" y1="652.00" x2="324.40" y2="652.00" stroke="#000" stroke-width="1.8"/>
<text transform="translate(305.50 655.40) scale(0.925 1)" font-size="14.4" text-anchor="middle" fill="#111">.1</text>
<line x1="318.00" y1="696.20" x2="324.40" y2="696.20" stroke="#000" stroke-width="1.8"/>
<text transform="translate(305.50 699.60) scale(0.925 1)" font-size="14.4" text-anchor="middle" fill="#111">.01</text>
<line x1="318.00" y1="740.60" x2="324.40" y2="740.60" stroke="#000" stroke-width="1.8"/>
<text transform="translate(305.50 744.00) scale(0.925 1)" font-size="14.4" text-anchor="middle" fill="#111">.001</text>
<line x1="324.40" y1="740.60" x2="324.40" y2="747.50" stroke="#000" stroke-width="1.8"/>
<text transform="translate(323.90 764.30) scale(0.925 1)" font-size="14.4" text-anchor="middle" fill="#111">0</text>
<line x1="370.80" y1="740.60" x2="370.80" y2="747.50" stroke="#000" stroke-width="1.8"/>
<text transform="translate(370.40 764.30) scale(0.925 1)" font-size="14.4" text-anchor="middle" fill="#111">5</text>
<line x1="417.20" y1="740.60" x2="417.20" y2="747.50" stroke="#000" stroke-width="1.8"/>
<text transform="translate(417.60 764.30) scale(0.925 1)" font-size="14.4" text-anchor="middle" fill="#111">10</text>
<line x1="463.60" y1="740.60" x2="463.60" y2="747.50" stroke="#000" stroke-width="1.8"/>
<text transform="translate(465.20 761.10) scale(0.925 1)" font-size="14.4" text-anchor="middle" fill="#111">15</text>
<line x1="510.00" y1="740.60" x2="510.00" y2="747.50" stroke="#000" stroke-width="1.8"/>
<text transform="translate(510.90 760.50) scale(0.925 1)" font-size="14.4" text-anchor="middle" fill="#111">20</text>
<text x="504.50" y="732.80" font-size="18" font-weight="bold" stroke="#000" stroke-width="0.3" text-anchor="end">CD8</text>
<text transform="translate(288.40 647.20) rotate(-90)" font-size="18.5" font-weight="bold" stroke="#000" stroke-width="0.3" text-anchor="middle">Memory-Naive Ratio</text>
<text x="272.60" y="547.40" font-size="25" font-weight="bold" stroke="#000" stroke-width="0.45">F</text>
<text x="433.00" y="785.20" font-size="18" font-weight="bold" stroke="#000" stroke-width="0.3" text-anchor="middle">Age (years)</text>
</g>
</svg>
</body></html>
